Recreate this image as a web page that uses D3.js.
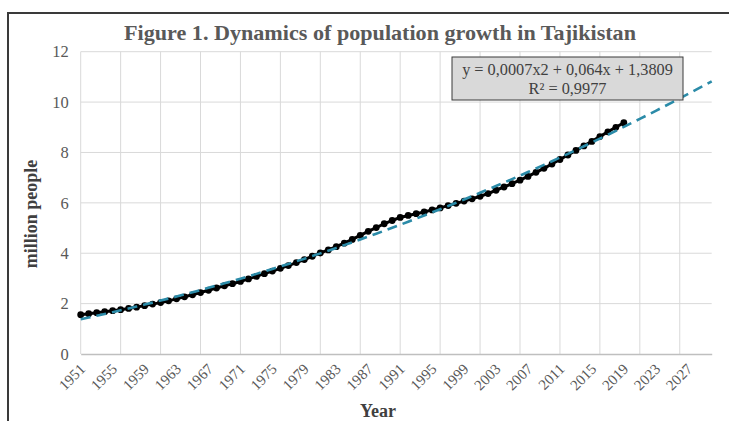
<!DOCTYPE html>
<html><head><meta charset="utf-8">
<script src="https://cdn.jsdelivr.net/npm/d3@7"></script>
<style>html,body{margin:0;padding:0;background:#fff;}svg{display:block;}</style>
</head><body>
<svg id="chart" width="729" height="421"></svg>
<script>
// ---- data ----
const years = [1951,1952,1953,1954,1955,1956,1957,1958,1959,1960,
  1961,1962,1963,1964,1965,1966,1967,1968,1969,1970,
  1971,1972,1973,1974,1975,1976,1977,1978,1979,1980,
  1981,1982,1983,1984,1985,1986,1987,1988,1989,1990,
  1991,1992,1993,1994,1995,1996,1997,1998,1999,2000,
  2001,2002,2003,2004,2005,2006,2007,2008,2009,2010,
  2011,2012,2013,2014,2015,2016,2017,2018,2019];
const population = [1.56,1.60,1.64,1.68,1.72,1.76,1.81,1.86,1.92,1.98,
  2.04,2.11,2.19,2.27,2.35,2.44,2.53,2.62,2.71,2.79,
  2.88,2.98,3.08,3.19,3.29,3.40,3.51,3.63,3.75,3.88,
  4.01,4.13,4.26,4.40,4.55,4.71,4.87,5.02,5.17,5.30,
  5.42,5.50,5.57,5.64,5.72,5.80,5.89,5.98,6.07,6.16,
  6.26,6.37,6.50,6.63,6.76,6.90,7.05,7.21,7.37,7.54,
  7.72,7.90,8.08,8.26,8.44,8.63,8.82,9.00,9.18];
const forecastYears = [2020,2021,2022,2023,2024,2025,2026,2027,2028,2029,2030];
const xTickLabels = ["1951","1955","1959","1963","1967","1971","1975","1979","1983","1987",
  "1991","1995","1999","2003","2007","2011","2015","2019","2023","2027"];
const xGridYears = [1951,1956,1961,1966,1971,1976,1981,1986,1991,1996,2001,2006,2011,2016,2021,2026];
const yTicks = [0,2,4,6,8,10,12];
const titleText = "Figure 1. Dynamics of population growth in Tajikistan";
const yTitle = "million people";
const xTitle = "Year";
const equationLines = ["y = 0,0007x2 + 0,064x + 1,3809", "R\u00B2 = 0,9977"];

// ---- layout ----
const svg = d3.select("#chart");
const plot = {left: 80.7, right: 711.7, top: 51.7, bottom: 354};
const allYears = years.concat(forecastYears);
const x = d3.scaleLinear().domain([allYears[0], allYears[allYears.length-1]]).range([plot.left, plot.right]);
const y = d3.scaleLinear().domain([0, 12]).range([plot.bottom, plot.top]);
const serif = "'Liberation Serif','Times New Roman',serif";

// outer frame
svg.append("rect").attr("x", 8).attr("y", 13).attr("width", 740).attr("height", 430)
  .attr("fill", "none").attr("stroke", "#3a3a3a").attr("stroke-width", 2);

// gridlines
svg.append("g").selectAll("line.h").data(yTicks.filter(d => d > 0)).join("line")
  .attr("x1", plot.left).attr("x2", plot.right)
  .attr("y1", d => y(d)).attr("y2", d => y(d))
  .attr("stroke", "#d9d9d9").attr("stroke-width", 1);
svg.append("g").selectAll("line.v").data(xGridYears).join("line")
  .attr("x1", d => x(d)).attr("x2", d => x(d))
  .attr("y1", plot.top).attr("y2", plot.bottom)
  .attr("stroke", "#d9d9d9").attr("stroke-width", 1);

// x axis
const xAxis = d3.axisBottom(x).tickValues(xTickLabels.map(Number)).tickSize(0).tickFormat(d => String(d));
const gx = svg.append("g").attr("transform", `translate(0,${plot.bottom})`).call(xAxis);
gx.select(".domain").attr("stroke", "#bfbfbf").attr("stroke-width", 1.3);
gx.selectAll("text")
  .attr("font-family", serif).attr("font-size", 15).attr("fill", "#595959")
  .attr("text-anchor", "end")
  .attr("dy", null).attr("y", 0)
  .attr("transform", `translate(5,16) rotate(-45)`);

// y axis
const yAxis = d3.axisLeft(y).tickValues(yTicks).tickSize(0).tickFormat(d => String(d));
const gy = svg.append("g").attr("transform", `translate(${plot.left - 12},0)`).call(yAxis);
gy.select(".domain").remove();
gy.selectAll("text").attr("font-family", serif).attr("font-size", 16.5).attr("fill", "#595959").attr("x", 0);

// series
const series = years.map((yr, i) => ({year: yr, value: population[i]}));
const line = d3.line().x(d => x(d.year)).y(d => y(d.value));
svg.append("path").datum(series).attr("d", line)
  .attr("fill", "none").attr("stroke", "#000").attr("stroke-width", 3);
svg.append("g").selectAll("circle").data(series).join("circle")
  .attr("cx", d => x(d.year)).attr("cy", d => y(d.value)).attr("r", 3.4)
  .attr("fill", "#000");

// polynomial (order 2) trendline: least squares on index 1..N, forecast forward
function quadFit(vals) {
  let S = [0,0,0,0,0], T = [0,0,0];
  vals.forEach((v, i) => {
    const t = i + 1;
    for (let k = 0; k < 5; k++) S[k] += Math.pow(t, k);
    for (let k = 0; k < 3; k++) T[k] += v * Math.pow(t, k);
  });
  const A = [[S[0],S[1],S[2],T[0]],[S[1],S[2],S[3],T[1]],[S[2],S[3],S[4],T[2]]];
  for (let c = 0; c < 3; c++) {
    for (let r = c + 1; r < 3; r++) {
      const f = A[r][c] / A[c][c];
      for (let k = c; k < 4; k++) A[r][k] -= f * A[c][k];
    }
  }
  const sol = [0,0,0];
  for (let r = 2; r >= 0; r--) {
    let s = A[r][3];
    for (let k = r + 1; k < 3; k++) s -= A[r][k] * sol[k];
    sol[r] = s / A[r][r];
  }
  return sol; // c0, c1, c2
}
const coef = quadFit(population);
const trend = allYears.map((yr, i) => ({year: yr, value: coef[0] + coef[1]*(i+1) + coef[2]*(i+1)*(i+1)}));
svg.append("path").datum(trend).attr("d", d3.line().x(d => x(d.year)).y(d => y(d.value)))
  .attr("fill", "none").attr("stroke", "#2b8ba8").attr("stroke-width", 2.6)
  .attr("stroke-dasharray", "10,6");

// equation box
const bx = 452, by = 57, bw = 231, bh = 43;
svg.append("rect").attr("x", bx).attr("y", by).attr("width", bw).attr("height", bh)
  .attr("fill", "#d9d9d9").attr("stroke", "#3a3a3a").attr("stroke-width", 1);
svg.append("g").selectAll("text").data(equationLines).join("text")
  .attr("x", bx + bw/2).attr("y", (d, i) => by + 18 + i*18.6)
  .attr("text-anchor", "middle").attr("font-family", serif).attr("font-size", 16.3)
  .attr("fill", "#404040").text(d => d);

// titles
svg.append("text").attr("x", 380).attr("y", 40).attr("text-anchor", "middle")
  .attr("font-family", serif).attr("font-weight", "bold").attr("font-size", 21)
  .attr("fill", "#595959").attr("textLength", 512).attr("lengthAdjust", "spacingAndGlyphs")
  .text(titleText);
svg.append("text").attr("transform", "translate(37,214) rotate(-90)").attr("text-anchor", "middle")
  .attr("font-family", serif).attr("font-weight", "bold").attr("font-size", 18)
  .attr("fill", "#404040").text(yTitle);
svg.append("text").attr("x", 378).attr("y", 417).attr("text-anchor", "middle")
  .attr("font-family", serif).attr("font-weight", "bold").attr("font-size", 18)
  .attr("fill", "#404040").text(xTitle);
</script>
</body></html>
